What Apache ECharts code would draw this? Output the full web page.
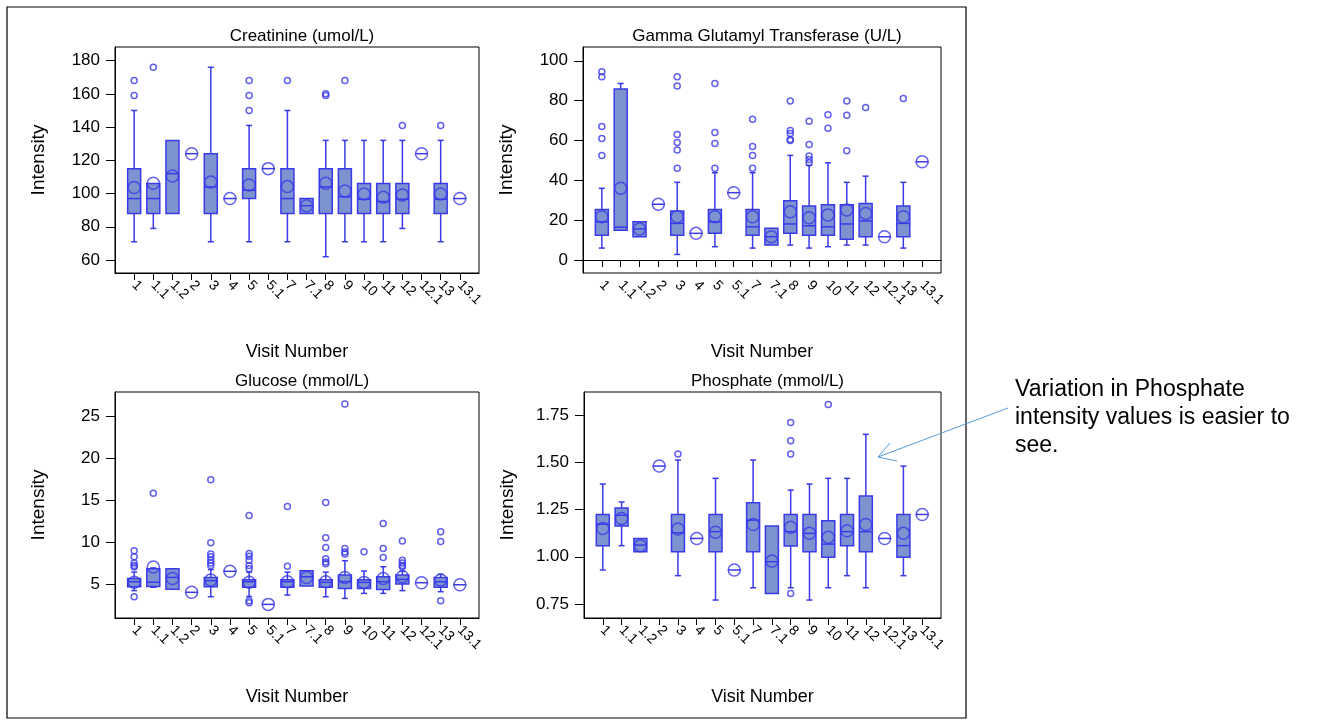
<!DOCTYPE html>
<html>
<head>
<meta charset="utf-8">
<title>Lab intensity by visit</title>
<script src="https://cdn.jsdelivr.net/npm/echarts@6/dist/echarts.min.js"></script>
<style>
    html, body { margin: 0; padding: 0; background: #fff; }
    #chart { width: 1317px; height: 724px; }
</style>
</head>
<body>
<div id="chart"></div>
<script>
// visit labels (x axis)
const visitLabels = ['1', '1.1', '1.2', '2', '3', '4', '5', '5.1', '7', '7.1', '8', '9', '10', '11', '12', '12.1', '13', '13.1'];

// box stats per visit: [min, q1, median, q3, max]
const creatinineStats = [
    [71, 88, 97, 115, 150], [79, 88, 97, 106, 106], [88, 88, 112, 132, 132], [124, 124, 124, 124, 124],
    [71, 88, 104, 124, 176], [97, 97, 97, 97, 97], [71, 97, 102, 115, 141], [115, 115, 115, 115, 115],
    [71, 88, 97, 115, 150], [88, 88, 92.7, 97, 97], [62, 88, 104, 115, 132], [71, 88, 98, 115, 132],
    [71, 88, 96.6, 106, 132], [71, 88, 95.2, 106, 132], [79, 88, 96.6, 106, 132], [124, 124, 124, 124, 124],
    [71, 88, 96.6, 106, 132], [97, 97, 97, 97, 97]
];
const creatinineMeans = [103.6, 106.2, 110.6, 124, 107, 97, 105.2, 115, 104.2, 92.7, 106.2, 101.6, 99.8, 97.8, 99.2, 124, 99.8, 97];
const creatinineOutliers = [
    [168, 159], [176], [], [], [], [], [168, 159, 150], [], [168], [], [159, 160], [168], [], [], [141], [], [141], []
];

const ggtStats = [
    [6, 12.5, 19.2, 25.4, 36], [15, 15, 16.5, 85.8, 88.6], [11.7, 11.7, 15.6, 19.2, 19.2], [28, 28, 28, 28, 28],
    [2.8, 12.5, 18.4, 24.6, 39], [13.4, 13.4, 13.4, 13.4, 13.4], [6.7, 13.4, 19.2, 25.4, 43.8], [33.8, 33.8, 33.8, 33.8, 33.8],
    [6, 12.5, 16.7, 25.4, 43.8], [7.5, 7.5, 11.7, 15.9, 15.9], [7.5, 13.4, 18.1, 29.8, 52.5], [6, 12.5, 17.2, 27.1, 47.5],
    [6.7, 12.5, 16.7, 27.8, 48.8], [7.5, 10.4, 18.1, 27.8, 39], [7.5, 11.7, 19.6, 28.4, 42.1], [11.7, 11.7, 11.7, 11.7, 11.7],
    [6, 11.7, 18.4, 27.1, 39], [49.3, 49.3, 49.3, 49.3, 49.3]
];
const ggtMeans = [21.7, 36, 15.6, 28, 21.7, 13.4, 21.7, 33.8, 21.7, 11.7, 24.2, 21.2, 22.6, 25.1, 23.4, 11.7, 21.7, 49.3];
const ggtOutliers = [
    [94.5, 92, 67, 61, 52.5], [], [], [], [92, 87.3, 63, 59, 55.2, 46], [], [88.6, 64, 58.5, 46], [],
    [70.6, 57, 52.5, 46], [], [79.8, 65, 63.5, 60.5, 60], [69.7, 58, 52.2, 50.5, 48.8], [72.9, 66.1], [79.8, 72.7, 54.8],
    [76.6], [], [81.1], []
];

const glucoseStats = [
    [4.3, 4.76, 5.36, 5.75, 6.5], [4.7, 4.8, 5.3, 6.9, 7.0], [4.45, 4.45, 5.87, 6.9, 6.9], [4.1, 4.1, 4.1, 4.1, 4.1],
    [3.57, 4.76, 5.48, 5.87, 6.8], [6.6, 6.6, 6.6, 6.6, 6.6], [3.6, 4.7, 5.36, 5.6, 6.5], [2.66, 2.66, 2.66, 2.66, 2.66],
    [3.77, 4.7, 5.36, 5.6, 6.5], [4.84, 4.84, 5.95, 6.67, 6.67], [3.57, 4.7, 5.28, 5.6, 6.5], [3.37, 4.56, 5.36, 6.15, 7.86],
    [3.97, 4.56, 5.28, 5.6, 6.63], [3.97, 4.44, 5.36, 5.95, 7.14], [4.3, 5.08, 5.63, 6.15, 6.6], [5.24, 5.24, 5.24, 5.24, 5.24],
    [4.17, 4.7, 5.36, 5.87, 6.23], [5.0, 5.0, 5.0, 5.0, 5.0]
];
const glucoseMeans = [5.3, 7.1, 5.75, 4.1, 5.56, 6.6, 5.3, 2.66, 5.36, 5.87, 5.36, 5.87, 5.28, 5.75, 5.95, 5.24, 5.56, 5.0];
const glucoseOutliers = [
    [9.05, 8.33, 7.6, 7.3, 7.1, 3.57], [15.9], [], [], [17.5, 10, 8.65, 8.33, 7.9, 7.6, 7.3], [],
    [13.25, 8.73, 8.4, 7.9, 7.3, 6.9, 3.1, 2.86], [], [14.3, 7.2], [], [14.8, 10.6, 9.44, 8.1, 7.7, 7.5],
    [26.5, 9.3, 8.9, 8.65], [8.93], [12.3, 9.3, 8.25], [10.2, 7.9, 7.6, 7.3, 7.14], [], [11.3, 10.16, 3.1], []
];

const phosphateStats = [
    [0.93, 1.059, 1.173, 1.224, 1.385], [1.059, 1.163, 1.22, 1.258, 1.29], [1.027, 1.027, 1.062, 1.097, 1.097], [1.48, 1.48, 1.48, 1.48, 1.48],
    [0.9, 1.027, 1.127, 1.224, 1.512], [1.097, 1.097, 1.097, 1.097, 1.097], [0.771, 1.027, 1.133, 1.224, 1.415], [0.93, 0.93, 0.93, 0.93, 0.93],
    [0.836, 1.027, 1.194, 1.286, 1.512], [0.806, 0.806, 0.974, 1.163, 1.163], [0.836, 1.057, 1.133, 1.224, 1.353], [0.771, 1.027, 1.124, 1.224, 1.385],
    [0.836, 0.997, 1.067, 1.191, 1.415], [0.9, 1.059, 1.133, 1.224, 1.415], [0.836, 1.027, 1.133, 1.321, 1.648], [1.097, 1.097, 1.097, 1.097, 1.097],
    [0.9, 0.997, 1.059, 1.224, 1.48], [1.224, 1.224, 1.224, 1.224, 1.224]
];
const phosphateMeans = [1.15, 1.203, 1.059, 1.48, 1.147, 1.097, 1.13, 0.93, 1.171, 0.977, 1.156, 1.124, 1.103, 1.138, 1.171, 1.097, 1.124, 1.224];
const phosphateOutliers = [
    [], [], [], [], [1.544], [], [], [], [], [], [1.71, 1.614, 1.544, 0.806], [], [1.806], [], [], [], [], []
];

// y tick values
const creatinineTicks = [60, 80, 100, 120, 140, 160, 180];
const ggtTicks = [0, 20, 40, 60, 80, 100];
const glucoseTicks = [5, 10, 15, 20, 25];
const phosphateTicks = [0.75, 1.0, 1.25, 1.5, 1.75];

const panels = [
    { title: 'Creatinine (umol/L)', stats: creatinineStats, means: creatinineMeans, outliers: creatinineOutliers, ticks: creatinineTicks, min: 52.2, max: 188.2, digits: 0, grid: { left: 115, top: 47, width: 364, height: 226 } },
    { title: 'Gamma Glutamyl Transferase (U/L)', stats: ggtStats, means: ggtMeans, outliers: ggtOutliers, ticks: ggtTicks, min: -6.5, max: 106.9, digits: 0, grid: { left: 583, top: 47, width: 358, height: 226 } },
    { title: 'Glucose (mmol/L)', stats: glucoseStats, means: glucoseMeans, outliers: glucoseOutliers, ticks: glucoseTicks, min: 1.04, max: 27.94, digits: 0, grid: { left: 115, top: 392, width: 364, height: 226 } },
    { title: 'Phosphate (mmol/L)', stats: phosphateStats, means: phosphateMeans, outliers: phosphateOutliers, ticks: phosphateTicks, min: 0.676, max: 1.872, digits: 2, grid: { left: 584, top: 392, width: 357, height: 226 } }
];

const FONT = '"Liberation Sans", Arial, sans-serif';
const EDGE = '#3a3ae8';
const FILL = '#7d93cf';

document.addEventListener('DOMContentLoaded', function () {
    const myChart = echarts.init(document.getElementById('chart'));

    // padded category axis so the first/last visit sit in from the frame
    const axisCats = [''].concat(visitLabels, ['']);

    function renderBox(params, api) {
        const x = api.value(0);
        const lo = api.coord([x, api.value(1)]);
        const q1 = api.coord([x, api.value(2)]);
        const md = api.coord([x, api.value(3)]);
        const q3 = api.coord([x, api.value(4)]);
        const hi = api.coord([x, api.value(5)]);
        const cx = md[0];
        const half = 6.5;
        const cap = 3;
        const line = { stroke: EDGE, lineWidth: 1.5 };
        const children = [];
        if (hi[1] < q3[1] - 0.5) {
            children.push({ type: 'line', shape: { x1: cx, y1: q3[1], x2: cx, y2: hi[1] }, style: line });
            children.push({ type: 'line', shape: { x1: cx - cap, y1: hi[1], x2: cx + cap, y2: hi[1] }, style: line });
        }
        if (lo[1] > q1[1] + 0.5) {
            children.push({ type: 'line', shape: { x1: cx, y1: q1[1], x2: cx, y2: lo[1] }, style: line });
            children.push({ type: 'line', shape: { x1: cx - cap, y1: lo[1], x2: cx + cap, y2: lo[1] }, style: line });
        }
        if (q1[1] - q3[1] > 0.5) {
            children.push({
                type: 'rect',
                shape: { x: cx - half, y: q3[1], width: half * 2, height: q1[1] - q3[1] },
                style: { fill: FILL, stroke: EDGE, lineWidth: 1.5 }
            });
        }
        children.push({ type: 'line', shape: { x1: cx - half, y1: md[1], x2: cx + half, y2: md[1] }, style: line });
        return { type: 'group', children: children };
    }

    const option = {
        backgroundColor: '#fff',
        animation: false,
        title: [],
        grid: [],
        xAxis: [],
        yAxis: [],
        series: [],
        graphic: []
    };

    panels.forEach(function (p, k) {
        option.grid.push(Object.assign({ show: true, borderColor: '#000', borderWidth: 1, backgroundColor: '#fff' }, p.grid));
        option.title.push({
            text: p.title,
            left: p.grid.left + p.grid.width / 2,
            top: p.grid.top - 24,
            textAlign: 'center',
            textStyle: { fontFamily: FONT, fontSize: 17, fontWeight: 'normal', color: '#000' }
        });
        option.xAxis.push({
            type: 'category',
            gridIndex: k,
            data: axisCats,
            boundaryGap: false,
            name: 'Visit Number',
            nameLocation: 'middle',
            nameGap: 70,
            nameTextStyle: { fontFamily: FONT, fontSize: 18, color: '#000' },
            axisLine: { show: true, lineStyle: { color: '#000', width: 1 } },
            axisTick: {
                show: true,
                length: 7,
                lineStyle: { color: '#000' },
                interval: function (i) { return i > 0 && i < axisCats.length - 1; }
            },
            axisLabel: { interval: 0, rotate: -45, margin: 10, fontFamily: FONT, fontSize: 14, color: '#000' },
            splitLine: { show: false }
        });
        option.yAxis.push({
            type: 'value',
            gridIndex: k,
            min: p.min,
            max: p.max,
            name: 'Intensity',
            nameLocation: 'middle',
            nameGap: 67,
            nameTextStyle: { fontFamily: FONT, fontSize: 19, color: '#000' },
            axisLine: { show: true, lineStyle: { color: '#000', width: 1 } },
            axisTick: { show: true, length: 9, lineStyle: { color: '#000' }, customValues: p.ticks },
            axisLabel: {
                customValues: p.ticks,
                margin: 15,
                fontFamily: FONT,
                fontSize: 17,
                color: '#000',
                formatter: function (v) { return Number(v).toFixed(p.digits); }
            },
            splitLine: { show: false }
        });

        option.series.push({
            type: 'custom',
            xAxisIndex: k,
            yAxisIndex: k,
            renderItem: renderBox,
            encode: { x: 0, y: [1, 2, 3, 4, 5] },
            data: p.stats.map(function (s, i) { return [i + 1].concat(s); }),
            z: 2
        });
        option.series.push({
            type: 'scatter',
            xAxisIndex: k,
            yAxisIndex: k,
            symbol: 'circle',
            symbolSize: 12,
            itemStyle: { color: 'rgba(0,0,0,0)', borderColor: EDGE, borderWidth: 1.5 },
            data: p.means.map(function (m, i) { return [i + 1, m]; }),
            z: 3
        });
        const outs = [];
        p.outliers.forEach(function (list, i) {
            list.forEach(function (v) { outs.push([i + 1, v]); });
        });
        option.series.push({
            type: 'scatter',
            xAxisIndex: k,
            yAxisIndex: k,
            symbol: 'circle',
            symbolSize: 6,
            itemStyle: { color: 'rgba(0,0,0,0)', borderColor: EDGE, borderWidth: 1.5 },
            data: outs,
            z: 3
        });
    });

    // outer frame and annotation
    option.graphic = [
        { type: 'rect', shape: { x: 7, y: 7, width: 959, height: 711 }, style: { fill: null, stroke: '#000', lineWidth: 1.2 }, z: -1 },
        {
            type: 'text',
            left: 1015,
            top: 376,
            style: {
                text: 'Variation in Phosphate\nintensity values is easier to\nsee.',
                fontFamily: FONT,
                fontSize: 23,
                lineHeight: 28,
                fill: '#000'
            }
        },
        { type: 'line', shape: { x1: 1008, y1: 408, x2: 878, y2: 457 }, style: { stroke: '#5b9bd5', lineWidth: 1 } },
        { type: 'polyline', shape: { points: [[890, 443], [878, 457], [897, 461]] }, style: { stroke: '#5b9bd5', lineWidth: 1, fill: null } }
    ];

    myChart.setOption(option);

    window.addEventListener('resize', function () {
        myChart.resize();
    });
});
</script>
</body>
</html>
